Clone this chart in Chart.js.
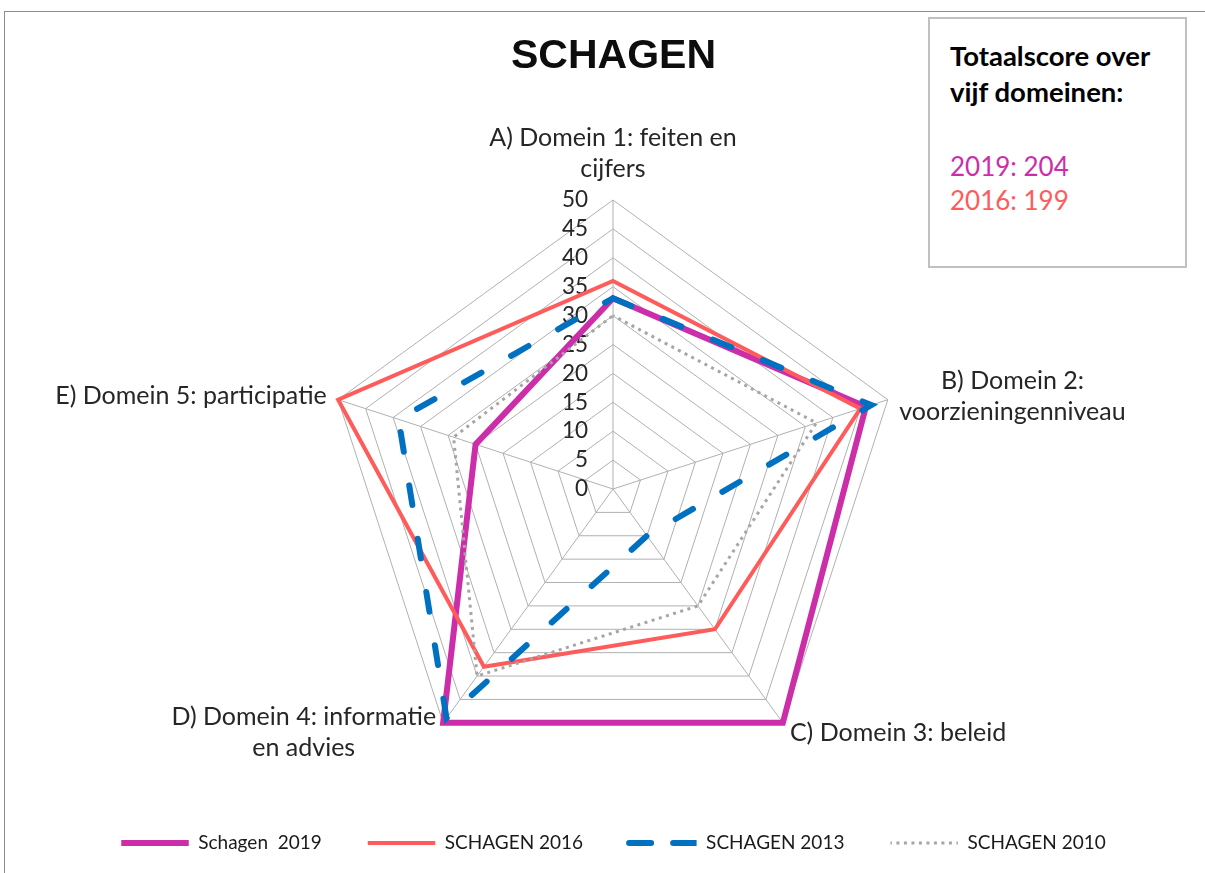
<!DOCTYPE html>
<html>
<head>
<meta charset="utf-8">
<script src="https://cdn.jsdelivr.net/npm/chart.js@4.4.1/dist/chart.umd.min.js"></script>
<style>
  html, body { margin: 0; padding: 0; background: #fff; overflow: hidden; }
  #frame { position: absolute; left: 4px; top: 11px; width: 1300px; height: 1000px; border: 1px solid #8c8c8c; }
  #chart { position: absolute; left: 0; top: 0; }
  #score { position: absolute; left: 928px; top: 17px; width: 259px; height: 251px; box-sizing: border-box;
           border: 2px solid #c0c0c0; background: #fff; font-family: Lato, sans-serif; font-size: 26px; }
  #score div { position: absolute; left: 20px; line-height: 36px; white-space: nowrap; }
  #score .head { font-weight: bold; font-size: 27.5px; color: #000; }
</style>
</head>
<body>
<div id="frame"></div>
<canvas id="chart" width="1205" height="873"></canvas>
<div id="score">
  <div class="head" style="top:19px">Totaalscore over</div>
  <div class="head" style="top:55px">vijf domeinen:</div>
  <div style="top:129px;color:#CC2EAA">2019: 204</div>
  <div style="top:163px;color:#FF5B5B">2016: 199</div>
</div>
<script>
// assen (domeinen)
const domains = [
  ["A) Domein 1: feiten en", "cijfers"],
  ["B) Domein 2:", "voorzieningenniveau"],
  ["C) Domein 3: beleid"],
  ["D) Domein 4: informatie", "en advies"],
  ["E) Domein 5: participatie"]
];

// scores per jaar
const schagen2019 = [33, 46, 50, 50, 25];
const schagen2016 = [36, 45, 30, 38, 50];
const schagen2013 = [33, 47, 10, 49, 39];
const schagen2010 = [30, 37, 25, 40, 29];

const seriesNames = ["Schagen  2019", "SCHAGEN 2016", "SCHAGEN 2013", "SCHAGEN 2010"];

// as 0 - 50
const axisMin = 0;
const axisMax = 50;
const axisStep = 5;

const labelColor = "#262626";

// streeppatroon voor de legenda (lijn wordt heen en terug getrokken)
const legendDash = [[], [], [22, 22, 47, 200], [3, 4.5]];

// tick labels links van de verticale as + aslabels rond het web
const radarText = {
  id: "radarText",
  beforeDatasetsDraw(chart) {
    const r = chart.scales.r;
    const ctx = chart.ctx;
    ctx.save();
    ctx.font = "22.5px Lato";
    ctx.fillStyle = labelColor;
    ctx.textAlign = "right";
    ctx.textBaseline = "middle";
    r.ticks.forEach((t) => {
      const y = r.yCenter - r.getDistanceFromCenterForValue(t.value);
      ctx.fillText(String(t.value), r.xCenter - 25, y);
    });
    ctx.restore();
  },
  afterDraw(chart) {
    const r = chart.scales.r;
    const ctx = chart.ctx;
    const lh = 31;
    ctx.save();
    ctx.font = "25px Lato";
    ctx.fillStyle = labelColor;
    ctx.textAlign = "center";
    ctx.textBaseline = "middle";
    domains.forEach((lines, i) => {
      const p = r.getPointPosition(i, r.drawingArea + 12);
      const w = Math.max(...lines.map((l) => ctx.measureText(l).width));
      const dx = p.x - r.xCenter;
      let cx;
      let firstY;
      if (Math.abs(dx) < 1) {
        cx = p.x;
        firstY = p.y - 19 - (lines.length - 1) * lh;
      } else {
        cx = dx > 0 ? p.x + w / 2 : p.x - w / 2;
        firstY = p.y - ((lines.length - 1) * lh) / 2;
      }
      lines.forEach((l, k) => ctx.fillText(l, cx, firstY + k * lh));
    });
    ctx.restore();
  }
};

const ctx = document.getElementById("chart");

new Chart(ctx, {
  type: "radar",
  data: {
    labels: domains,
    datasets: [
      {
        label: seriesNames[0],
        data: schagen2019,
        borderColor: "#CC2EAA",
        backgroundColor: "rgba(0,0,0,0)",
        borderWidth: 6,
        borderCapStyle: "round",
        order: 4
      },
      {
        label: seriesNames[1],
        data: schagen2016,
        borderColor: "#FF5B5B",
        backgroundColor: "rgba(0,0,0,0)",
        borderWidth: 4,
        order: 3
      },
      {
        label: seriesNames[2],
        data: schagen2013,
        borderColor: "#0070C0",
        backgroundColor: "rgba(0,0,0,0)",
        borderWidth: 6,
        borderDash: [20, 34],
        borderCapStyle: "round",
        order: 2
      },
      {
        label: seriesNames[3],
        data: schagen2010,
        borderColor: "#A6A6A6",
        backgroundColor: "rgba(0,0,0,0)",
        borderWidth: 3,
        borderDash: [3, 4.5],
        borderDashOffset: 1.5,
        order: 1
      }
    ]
  },
  options: {
    responsive: false,
    animation: false,
    layout: { padding: { left: 22, right: 0, top: 10, bottom: 10.5 } },
    elements: {
      point: { radius: 0, hoverRadius: 0 },
      line: { tension: 0, fill: false }
    },
    scales: {
      r: {
        min: axisMin,
        max: axisMax,
        ticks: { stepSize: axisStep, display: false },
        grid: { color: "#b0b0b0", lineWidth: 1 },
        angleLines: { color: "#b0b0b0", lineWidth: 1 },
        pointLabels: { display: false }
      }
    },
    plugins: {
      title: {
        display: true,
        text: "SCHAGEN",
        color: "#0d0d0d",
        font: { family: "'Liberation Sans', Arial, sans-serif", size: 41, weight: "bold", lineHeight: 1.2 },
        padding: { top: 22, bottom: 118 }
      },
      legend: {
        position: "bottom",
        maxHeight: 83.5,
        title: { display: true, text: " ", padding: 0, font: { size: 8, lineHeight: "8.5px" } },
        labels: {
          boxWidth: 67.5,
          boxHeight: 0,
          padding: 46,
          color: "#1a1a1a",
          font: { family: "Lato", size: 19 },
          sort: (a, b) => a.datasetIndex - b.datasetIndex,
          generateLabels: (chart) =>
            Chart.defaults.plugins.legend.labels.generateLabels(chart).map((item) => {
              item.lineDash = legendDash[item.datasetIndex];
              return item;
            })
        }
      },
      tooltip: { enabled: false }
    }
  },
  plugins: [radarText]
});
</script>
</body>
</html>
